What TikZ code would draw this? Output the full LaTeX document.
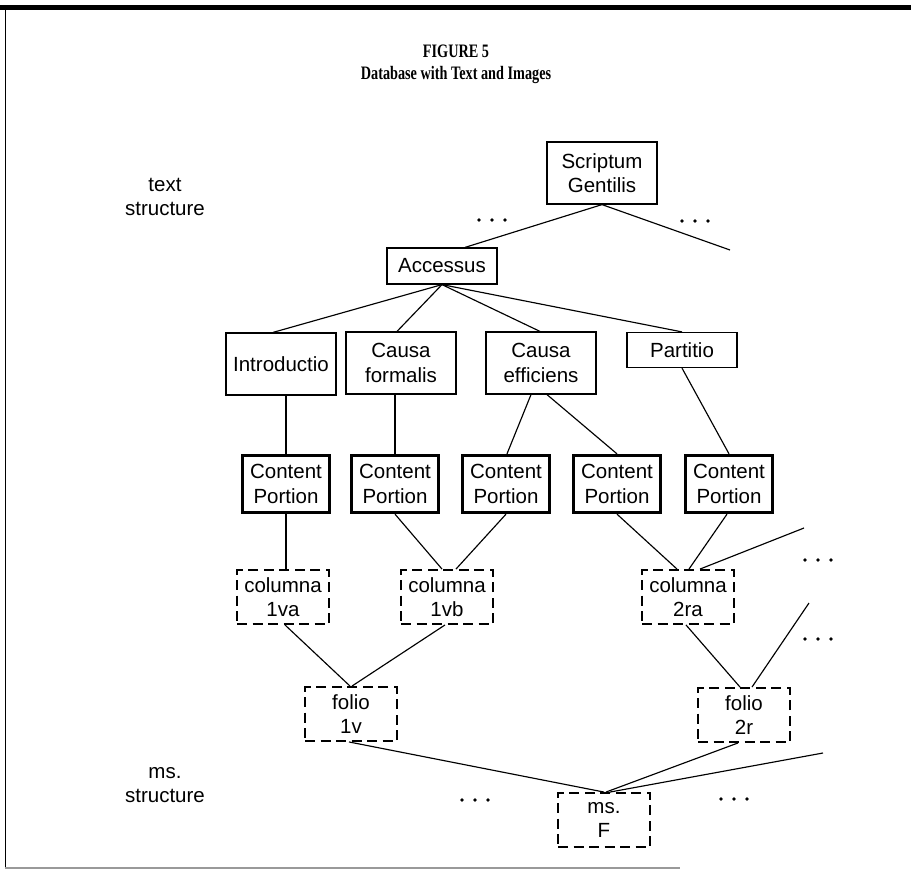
\documentclass[tikz,border=0pt]{standalone}
\usepackage{fontspec}
\setmainfont{Liberation Sans}
\newfontfamily\titlefont{Liberation Serif}
\begin{document}
\begin{tikzpicture}[x=1pt,y=-1pt,
  base/.style={font=\fontsize{20.5}{24.5}\selectfont, align=center, inner sep=0pt},
  plainbox/.style={base, draw, line width=1.2pt, minimum width=110pt},
  cpbox/.style={base, draw, line width=3.3pt, minimum width=87pt, minimum height=57pt},
  dbox/.style={base, draw, line width=1.9pt, dash pattern=on 10pt off 5.5pt, minimum width=92pt, minimum height=54pt},
  conn/.style={line width=1.15pt},
  frame/.style={line width=1pt}
]
\useasboundingbox (0,0) rectangle (911,873);

% frame
\draw[line width=5pt] (0,7) -- (911,7);
\draw[frame] (5,7) -- (5,868);
\draw[line width=1.3pt, black!40] (5,868) -- (680,868);

% title
\node[font=\titlefont\bfseries\fontsize{19}{22}\selectfont, align=center] (title) at (456,64) {\scalebox{0.75}[1]{FIGURE 5}\\\scalebox{0.75}[1]{Database with Text and Images}};

% side labels
\node[base] (tlab) at (165,197) {text\\structure};
\node[base] (mlab) at (165,785) {ms.\\structure};

% text structure
\node[plainbox, minimum height=62pt] (scr) at (602,173) {Scriptum\\Gentilis};
\node[plainbox, minimum height=36pt] (acc) at (442,266) {Accessus};
\node[plainbox, minimum height=62pt] (intro) at (281,364) {Introductio};
\node[plainbox, minimum height=62pt] (cf) at (401,363) {Causa\\formalis};
\node[plainbox, minimum height=62pt] (ce) at (541,363) {Causa\\efficiens};
\node[plainbox, minimum height=35pt] (part) at (682,350) {Partitio};

% content portions
\node[cpbox] (cp1) at (286,484) {Content\\Portion};
\node[cpbox] (cp2) at (395,484) {Content\\Portion};
\node[cpbox] (cp3) at (506,484) {Content\\Portion};
\node[cpbox] (cp4) at (617,484) {Content\\Portion};
\node[cpbox] (cp5) at (729,484) {Content\\Portion};

% ms structure
\node[dbox] (c1va) at (283,597) {columna\\1va};
\node[dbox] (c1vb) at (447,597) {columna\\1vb};
\node[dbox] (c2ra) at (688,597) {columna\\2ra};
\node[dbox] (f1v) at (351,714) {folio\\1v};
\node[dbox] (f2r) at (744,715) {folio\\2r};
\node[dbox] (ms) at (604,820) {ms.\\F};

% free ends
\coordinate (eScr) at (730,250);
\coordinate (eCol) at (804,528);
\coordinate (eFol) at (809,603);
\coordinate (eMs) at (823,753);

% connectors
\draw[conn] (scr.south) -- ([xshift=23pt]acc.north);
\draw[conn] (scr.south) -- (eScr);
\draw[conn] (acc.south) -- ([xshift=-8pt]intro.north);
\draw[conn] (acc.south) -- ([xshift=-4pt]cf.north);
\draw[conn] (acc.south) -- ([xshift=-1pt]ce.north);
\draw[conn] (acc.south) -- (part.north);
\draw[conn] (cp1.north) -- (cp1.north |- intro.south);
\draw[conn] (cp2.north) -- (cp2.north |- cf.south);
\draw[conn] ([xshift=-10pt]ce.south) -- ([xshift=1pt]cp3.north);
\draw[conn] ([xshift=6pt]ce.south) -- (cp4.north);
\draw[conn] (part.south) -- (cp5.north);
\draw[conn] (cp1.south) -- (cp1.south |- c1va.north);
\draw[conn] (cp2.south) -- ([xshift=-5pt]c1vb.north);
\draw[conn] (cp3.south) -- ([xshift=9pt]c1vb.north);
\draw[conn] (cp4.south) -- ([xshift=-11pt]c2ra.north);
\draw[conn] ([xshift=-2pt]cp5.south) -- ([xshift=1pt]c2ra.north);
\draw[conn] ([xshift=12pt]c2ra.north) -- (eCol);
\draw[conn] ([xshift=2pt]c1va.south) -- ([xshift=-1pt]f1v.north);
\draw[conn] ([xshift=-2pt]c1vb.south) -- ([xshift=1pt]f1v.north);
\draw[conn] ([xshift=-2pt]c2ra.south) -- ([xshift=-4pt]f2r.north);
\draw[conn] ([xshift=8pt]f2r.north) -- (eFol);
\draw[conn] ([xshift=-2pt]f1v.south) -- (ms.north);
\draw[conn] ([xshift=-6pt]f2r.south) -- ([xshift=2pt]ms.north);
\draw[conn] ([xshift=6pt]ms.north) -- (eMs);

% ellipses
\foreach \x/\y in {479/220, 682/221, 805/560, 805/639, 462/800, 721/799}{
  \fill (\x,\y) circle (1.8pt) ++(13,0) circle (1.8pt) ++(13,0) circle (1.8pt);
}
\end{tikzpicture}
\end{document}
